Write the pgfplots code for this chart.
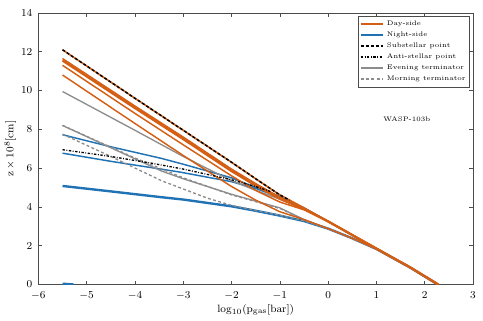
\documentclass[border=0pt]{standalone}
\usepackage{pgfplots}
\pgfplotsset{compat=1.18}

\definecolor{dayc}{HTML}{D45F14}
\definecolor{nightc}{HTML}{1F72B4}
\definecolor{termc}{HTML}{8C8C8C}

% tails shared by the curves once they bunch up
\newcommand{\uppertail}{(0,3.25) (0.5,2.55) (1,1.85) (1.7,0.88) (2.28,0)}
\newcommand{\lowertail}{(0,2.88) (0.5,2.38) (1,1.83) (1.7,0.87) (2.27,0)}

\begin{document}
\begin{tikzpicture}
\begin{axis}[
  scale only axis,
  width=327.75pt, height=204.75pt,
  xmin=-6, xmax=3, ymin=0, ymax=14,
  xtick={-6,-5,...,3}, ytick={0,2,...,14},
  major tick length=3pt,
  axis line style={black!70},
  every tick/.style={black!70},
  tick label style={font=\footnotesize},
  xticklabel style={yshift=-1.5pt},
  yticklabel style={xshift=-1pt},
  label style={font=\footnotesize},
  xlabel={$\log_{10}(\mathrm{p_{gas}}[\mathrm{bar}])$},
  ylabel={$\mathrm{z}\times 10^{8}[\mathrm{cm}]$},
  xlabel style={yshift=3pt},
  ylabel style={yshift=-3pt},
  clip=true,
  legend style={at={(rel axis cs:0.993,0.989)}, anchor=north east,
    font=\tiny, draw=black!70, inner sep=1.2pt, row sep=-0.6pt,
    cells={anchor=west}},
  legend cell align=left,
]
\addlegendimage{dayc, line width=1.3pt}
\addlegendentry{Day-side}
\addlegendimage{nightc, line width=1.3pt}
\addlegendentry{Night-side}
\addlegendimage{black, line width=1.3pt, dash pattern=on 2.2pt off 1.6pt}
\addlegendentry{Substellar point}
\addlegendimage{black, line width=1.3pt, dash pattern=on 1.8pt off 1.2pt on 0.6pt off 1.2pt}
\addlegendentry{Anti-stellar point}
\addlegendimage{termc, line width=1.3pt}
\addlegendentry{Evening terminator}
\addlegendimage{termc, line width=1.3pt, dash pattern=on 2.2pt off 1.8pt}
\addlegendentry{Morning terminator}

% night side
\addplot[nightc, line width=1.1pt, forget plot] coordinates {
  (-5.5,7.72) (-4.5,7.1) (-3.45,6.5) (-3,6.2) (-2,5.5) (-1.5,5.0) (-1,4.55) (-0.5,3.95) \uppertail};
\addplot[nightc, line width=1.1pt, forget plot] coordinates {
  (-5.5,6.77) (-4.5,6.35) (-3.08,5.8) (-2,5.3) (-1.5,4.95) (-1,4.5) (-0.5,3.93) \uppertail};
\addplot[nightc, line width=1.8pt, forget plot] coordinates {
  (-5.5,5.08) (-4.5,4.8) (-3.45,4.5) (-3,4.38) (-2,4.03) (-1.5,3.8) (-1,3.55) (-0.5,3.27) \lowertail};
\addplot[nightc, line width=1.8pt, forget plot] coordinates {(-5.5,0.04) (-5.27,0.0)};

% terminators
\addplot[termc, line width=1pt, forget plot] coordinates {
  (-5.5,9.95) (-4,7.95) (-3,6.6) (-2,5.35) (-1.5,4.85) (-1,4.4) (-0.5,3.88) \uppertail};
\addplot[termc, line width=1pt, forget plot] coordinates {
  (-5.5,8.2) (-4.5,7.05) (-3.45,5.85) (-3,5.45) (-2,4.65) (-1.5,4.3) (-1,3.95) (-0.5,3.35) \lowertail};
\addplot[termc, line width=1pt, dash pattern=on 2.2pt off 1.8pt, forget plot] coordinates {
  (-5.5,8.2) (-4.5,7.08) (-4,6.52) (-3,5.5) (-2,4.62) (-1,3.92) (-0.5,3.33) \lowertail};
\addplot[termc, line width=1pt, dash pattern=on 2.2pt off 1.8pt, forget plot] coordinates {
  (-5.5,7.75) (-4.5,6.6) (-3.45,5.35) (-2.5,4.45) (-2,4.08) (-1.5,3.82) (-1,3.57) (-0.5,3.28) \lowertail};

% day side
\addplot[dayc, line width=1.1pt, forget plot] coordinates {
  (-5.5,10.8) (-4,8.3) (-3,6.65) (-2,5.05) (-1.5,4.35) (-1,3.75) (-0.5,3.35) \lowertail};
\addplot[dayc, line width=1.1pt, forget plot] coordinates {
  (-5.5,11.3) (-4,8.82) (-3,7.2) (-2,5.6) (-1.5,4.85) (-1,4.25) (-0.5,3.85) \uppertail};
\addplot[dayc, line width=1.8pt, forget plot] coordinates {
  (-5.5,11.55) (-4,9.1) (-3,7.5) (-2,5.85) (-1.5,5.1) (-1,4.42) (-0.5,3.9) \uppertail};
\addplot[dayc, line width=1.1pt, forget plot] coordinates {
  (-5.5,11.65) (-4,9.2) (-3,7.6) (-2,5.95) (-1.5,5.2) (-1,4.5) (-0.5,3.92) \uppertail};
\addplot[dayc, line width=1.2pt, forget plot] coordinates {
  (-5.5,12.1) (-4,9.6) (-3,7.95) (-2,6.3) (-1.5,5.45) (-1,4.62) (-0.5,3.95) \uppertail};

% substellar and anti-stellar points
\addplot[black, line width=1.1pt, dash pattern=on 2.2pt off 1.6pt, forget plot] coordinates {
  (-5.5,12.1) (-4,9.6) (-3,7.95) (-2,6.3) (-1.5,5.45) (-1,4.62) (-0.8,4.35)};
\addplot[black, line width=1pt, dash pattern=on 1.8pt off 1.2pt on 0.6pt off 1.2pt, forget plot] coordinates {
  (-5.5,6.95) (-4.5,6.6) (-3.65,6.25) (-3,5.95) (-2,5.4) (-1.5,5.05) (-1.2,4.8)};

\node[font=\tiny] at (axis cs:1.63,8.5) {WASP-103b};
\end{axis}
\path ([shift={(-27pt,-27pt)}]current axis.south west)
  rectangle ([shift={(7.5pt,9.75pt)}]current axis.north east);
\end{tikzpicture}
\end{document}
